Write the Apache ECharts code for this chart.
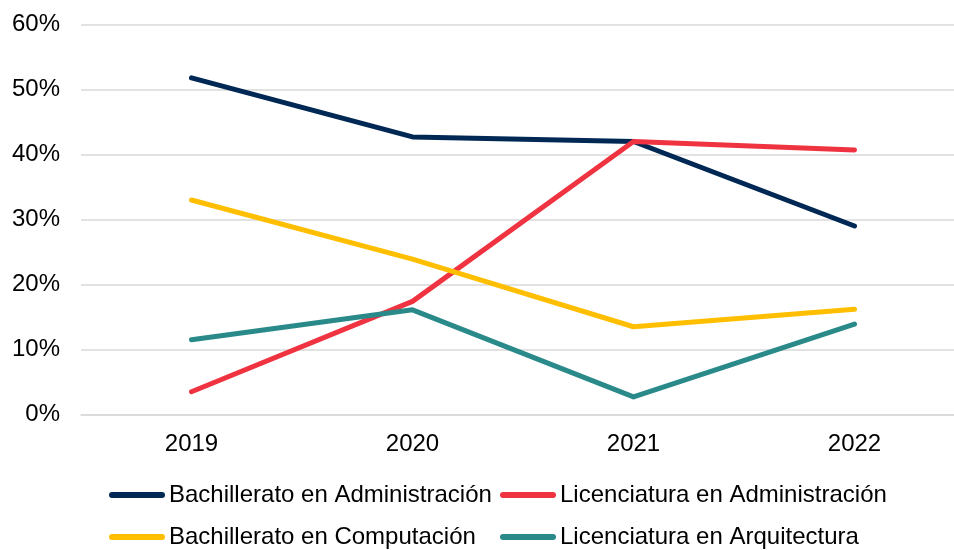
<!DOCTYPE html>
<html>
<head>
<meta charset="utf-8">
<script src="https://cdn.jsdelivr.net/npm/echarts@6/dist/echarts.min.js"></script>
<style>
  html, body { margin: 0; padding: 0; background: #fff; }
</style>
</head>
<body>
<div id="main" style="width: 954px;height:550px;"></div>
<script>
// datos (porcentajes)
const years = ['2019', '2020', '2021', '2022']
const seriesNames = [
  'Bachillerato en Administración',
  'Licenciatura en Administración',
  'Bachillerato en Computación',
  'Licenciatura en Arquitectura'
]
const bachAdmin = [51.8, 42.7, 42.0, 29.0]
const licAdmin = [3.5, 17.4, 42.0, 40.7]
const bachComp = [33.0, 23.9, 13.5, 16.2]
const licArq = [11.5, 16.1, 2.7, 13.9]
const colors = ['#002855', '#ef3340', '#ffbf00', '#2a8a8a']

const values = [bachAdmin, licAdmin, bachComp, licArq]
const font = 'Liberation Sans, Arial, sans-serif'

// icono de leyenda: linea con extremos redondeados
const legendIcon = 'path://M3,0 L53,0 A3,3 0 0 1 53,6 L3,6 A3,3 0 0 1 3,0 Z'
const legendPos = [
  { left: 109, top: 483 },
  { left: 500, top: 483 },
  { left: 109, top: 525 },
  { left: 500, top: 525 }
]

const option = {
  animation: false,
  color: colors,
  grid: {
    left: 81,
    top: 24.5,
    bottom: 135.5,
    width: 884,
    outerBoundsMode: 'none',
    containLabel: false
  },
  legend: seriesNames.map((name, i) => ({
    data: [name],
    left: legendPos[i].left,
    top: legendPos[i].top,
    icon: legendIcon,
    itemWidth: 56,
    itemHeight: 6,
    padding: 0,
    selectedMode: false,
    textStyle: {
      fontFamily: font,
      fontSize: 24,
      color: '#000',
      padding: [0, 0, 0, -1]
    }
  })),
  xAxis: {
    type: 'category',
    data: years,
    boundaryGap: true,
    axisLine: { lineStyle: { color: '#d9d9d9', width: 1.5 } },
    axisTick: { show: false },
    axisLabel: {
      margin: 18,
      fontFamily: font,
      fontSize: 24,
      color: '#000'
    }
  },
  yAxis: {
    type: 'value',
    min: 0,
    max: 60,
    interval: 10,
    axisLine: { show: false },
    axisTick: { show: false },
    splitLine: { lineStyle: { color: '#d9d9d9', width: 1.5 } },
    axisLabel: {
      margin: 21,
      fontFamily: font,
      fontSize: 24,
      color: '#000',
      formatter: '{value}%'
    }
  },
  series: seriesNames.map((name, i) => ({
    name: name,
    type: 'line',
    data: values[i],
    symbol: 'none',
    showSymbol: false,
    lineStyle: { width: 5, color: colors[i], cap: 'round', join: 'round' },
    itemStyle: { color: colors[i] }
  }))
}

const myChart = echarts.init(document.getElementById('main'))
myChart.setOption(option)
</script>
</body>
</html>
